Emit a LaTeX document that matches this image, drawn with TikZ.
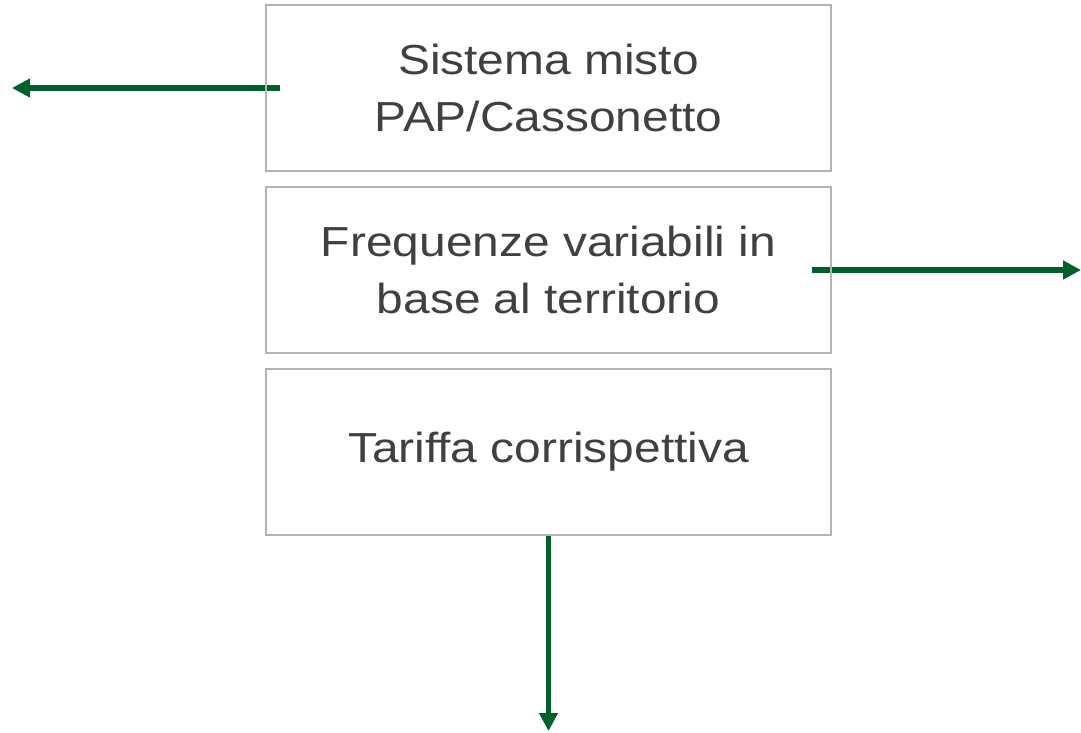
\documentclass[tikz,border=0pt]{standalone}
\usepackage{fontspec}
\setmainfont{Liberation Sans}[FakeStretch=1.14]
\usetikzlibrary{arrows.meta,calc}
\definecolor{boxgray}{HTML}{B4B4B4}
\definecolor{arrowgreen}{HTML}{00602B}
\definecolor{textgray}{HTML}{404040}
\begin{document}
\begin{tikzpicture}[x=1pt,y=-1pt,
  box/.style={minimum width=565pt,minimum height=166pt,inner sep=0pt,
    text=textgray,align=center,font=\fontsize{42}{57}\selectfont},
  boxline/.style={draw=boxgray,line width=2pt},
  garrow/.style={draw=arrowgreen,line width=5.5pt,-{Triangle[length=18pt,width=18pt]}}]
\useasboundingbox (0,0) rectangle (1081,733);
\node[box] (b1) at (548.5,88) {Sistema misto\\PAP/Cassonetto};
\node[box] (b2) at (548.5,270) {Frequenze variabili in\\base al territorio};
\node[box] (b3) at (548.5,452) {Tariffa corrispettiva};
\coordinate (s1) at ($(b1.west)+(14,0)$);
\coordinate (e1) at (12,88);
\coordinate (s2) at ($(b2.east)+(-19,0)$);
\coordinate (e2) at (1081,270);
\coordinate (e3) at (548.5,731);
\draw[garrow] (s1) -- (e1);
\draw[garrow] (s2) -- (e2);
\draw[garrow] (b3.south) -- (e3);
\foreach \b in {b1,b2,b3}
  \draw[boxline] (\b.south west) rectangle (\b.north east);
\end{tikzpicture}
\end{document}
